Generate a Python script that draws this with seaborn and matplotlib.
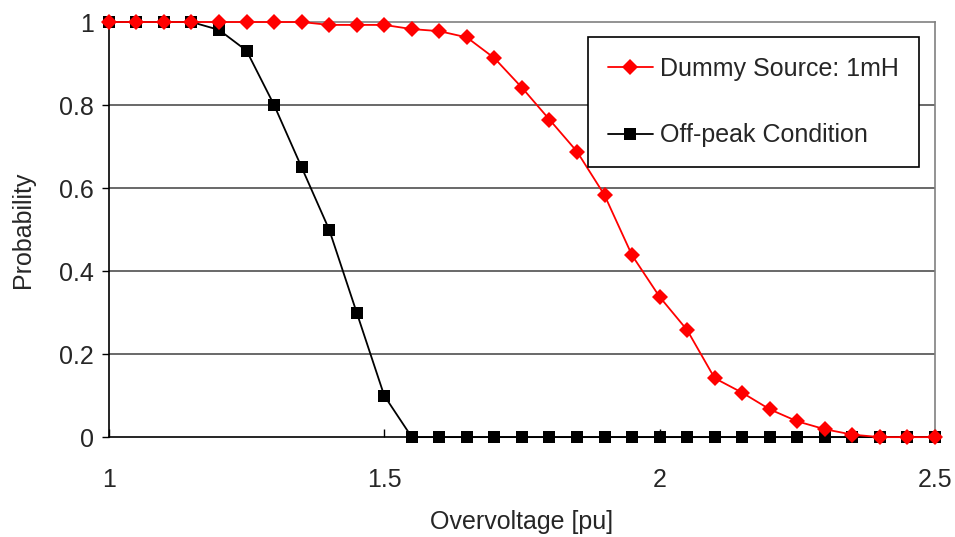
import matplotlib
matplotlib.use("Agg")
import matplotlib.pyplot as plt
import seaborn as sns

# data (step 0.05 pu)
overvoltage = [1.00, 1.05, 1.10, 1.15, 1.20, 1.25, 1.30, 1.35, 1.40, 1.45, 1.50,
               1.55, 1.60, 1.65, 1.70, 1.75, 1.80, 1.85, 1.90, 1.95, 2.00,
               2.05, 2.10, 2.15, 2.20, 2.25, 2.30, 2.35, 2.40, 2.45, 2.50]
dummy_source = [1.0, 1.0, 1.0, 1.0, 1.0, 1.0, 1.0, 1.0, 0.993, 0.993, 0.993,
                0.983, 0.978, 0.963, 0.913, 0.842, 0.765, 0.688, 0.583, 0.438, 0.338,
                0.258, 0.142, 0.107, 0.067, 0.038, 0.019, 0.006, 0.0, 0.0, 0.0]
off_peak = [1.0, 1.0, 1.0, 1.0, 0.981, 0.931, 0.8, 0.65, 0.5, 0.3, 0.1,
            0.0, 0.0, 0.0, 0.0, 0.0, 0.0, 0.0, 0.0, 0.0, 0.0,
            0.0, 0.0, 0.0, 0.0, 0.0, 0.0, 0.0, 0.0, 0.0, 0.0]
labels = ["Dummy Source: 1mH", "Off-peak Condition"]
x_ticks = [1, 1.5, 2, 2.5]
y_ticks = [0, 0.2, 0.4, 0.6, 0.8, 1]

sns.set_style("white")
plt.rcParams["font.family"] = ["Liberation Sans", "DejaVu Sans"]

fig = plt.figure(figsize=(9.55, 5.37), dpi=100)
ax = fig.add_axes([0.114, 0.186, 0.865, 0.773])

sns.lineplot(x=overvoltage, y=dummy_source, ax=ax, color="#ff0000", marker="D",
             markersize=8.5, markeredgewidth=0, linewidth=1.3, label=labels[0],
             clip_on=False, zorder=4)
sns.lineplot(x=overvoltage, y=off_peak, ax=ax, color="black", marker="s",
             markersize=8.5, markeredgewidth=0, linewidth=1.3, label=labels[1],
             clip_on=False, zorder=3)

ax.set_xlim(1, 2.5)
ax.set_ylim(0, 1)
ax.set_xticks(x_ticks)
ax.set_xticklabels(["1", "1.5", "2", "2.5"])
ax.set_yticks(y_ticks)
ax.set_yticklabels(["0", "0.2", "0.4", "0.6", "0.8", "1"])
ax.tick_params(axis="x", direction="in", length=6, width=1, color="black",
               labelsize=18, pad=22, bottom=True)
ax.tick_params(axis="y", direction="out", length=5, width=1, color="black",
               labelsize=18, pad=6, left=True)

for y in y_ticks[1:-1]:
    ax.axhline(y, color="#404040", linewidth=1.1, zorder=1)

ax.spines["left"].set_color("black")
ax.spines["bottom"].set_color("black")
ax.spines["top"].set_color("#808080")
ax.spines["right"].set_color("#808080")
for s in ax.spines.values():
    s.set_linewidth(1.2)
    s.set_visible(True)

ax.set_xlabel("Overvoltage [pu]", fontsize=18, labelpad=13)
ax.set_ylabel("Probability", fontsize=18, labelpad=17)

leg = ax.legend(loc="upper right", bbox_to_anchor=(0.981, 0.964), fontsize=18,
                frameon=True, fancybox=False, shadow=False, edgecolor="black",
                framealpha=1, handlelength=1.8, handletextpad=0.3,
                labelspacing=1.7, borderpad=0.8, borderaxespad=0)
leg.get_frame().set_linewidth(1.2)

fig.savefig("out.png", dpi=100)
